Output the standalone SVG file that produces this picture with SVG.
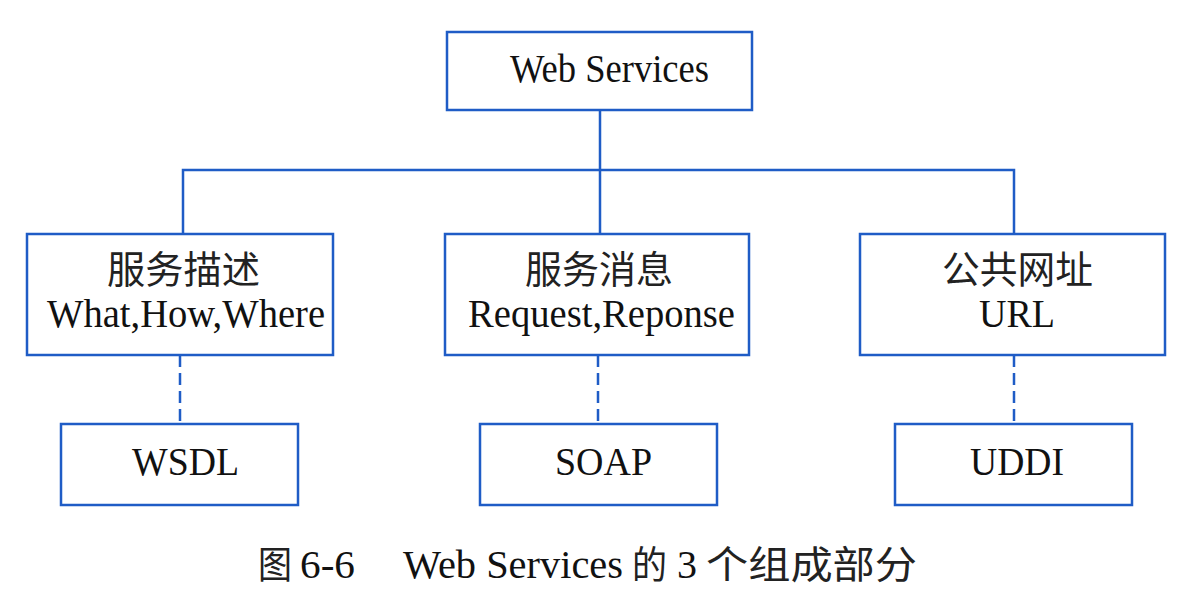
<svg xmlns="http://www.w3.org/2000/svg" width="1192" height="591" viewBox="0 0 1192 591">
<style>
.box{fill:#fff;stroke:#1f5cc6;stroke-width:2.5}
.ln{fill:none;stroke:#1f5cc6;stroke-width:2.5}
.dash{fill:none;stroke:#1f5cc6;stroke-width:2.5;stroke-dasharray:12 6}
.en{font-family:"Liberation Serif","Times New Roman",serif;font-size:41px;fill:#111}
.zh{font-family:"Noto Sans CJK SC","Noto Sans",sans-serif;font-size:38px;fill:#222}
.cap{font-family:"Liberation Serif","Times New Roman",serif;font-size:40px;fill:#111}
.capzh{font-family:"Noto Sans CJK SC",sans-serif;font-size:38px;fill:#222}
</style>
<rect width="1192" height="591" fill="#fff"/>
<g id="connectors">
<path class="ln" d="M600 110V234M183 234V170H1014V234"/>
<path class="dash" d="M180 355V424M598 355V424M1014 355V424"/>
</g>
<g id="web-services">
<rect class="box" x="447" y="32" width="305" height="78"/>
<text class="en" x="510" y="82" textLength="199" lengthAdjust="spacingAndGlyphs">Web Services</text>
</g>
<g id="service-description">
<rect class="box" x="27" y="234" width="306" height="121"/>
<text class="zh" x="107" y="283" textLength="153" lengthAdjust="spacingAndGlyphs">服务描述</text>
<text class="en" x="47" y="327" textLength="278" lengthAdjust="spacingAndGlyphs">What,How,Where</text>
</g>
<g id="service-message">
<rect class="box" x="445" y="234" width="304" height="121"/>
<text class="zh" x="525" y="283" textLength="148" lengthAdjust="spacingAndGlyphs">服务消息</text>
<text class="en" x="468" y="327" textLength="267" lengthAdjust="spacingAndGlyphs">Request,Reponse</text>
</g>
<g id="public-url">
<rect class="box" x="860" y="234" width="305" height="121"/>
<text class="zh" x="942" y="283" textLength="151" lengthAdjust="spacingAndGlyphs">公共网址</text>
<text class="en" x="979" y="327" textLength="76" lengthAdjust="spacingAndGlyphs">URL</text>
</g>
<g id="wsdl">
<rect class="box" x="61" y="424" width="237" height="81"/>
<text class="en" x="132" y="475" textLength="107" lengthAdjust="spacingAndGlyphs">WSDL</text>
</g>
<g id="soap">
<rect class="box" x="480" y="424" width="237" height="81"/>
<text class="en" x="555" y="475" textLength="97" lengthAdjust="spacingAndGlyphs">SOAP</text>
</g>
<g id="uddi">
<rect class="box" x="895" y="424" width="237" height="81"/>
<text class="en" x="970" y="475" textLength="94" lengthAdjust="spacingAndGlyphs">UDDI</text>
</g>
<g id="caption">
<text class="capzh" x="258" y="578" textLength="34" lengthAdjust="spacingAndGlyphs">图</text>
<text class="cap" x="300" y="578" textLength="55" lengthAdjust="spacingAndGlyphs">6-6</text>
<text class="cap" x="403" y="578" textLength="220" lengthAdjust="spacingAndGlyphs">Web Services</text>
<text class="capzh" x="632" y="578" textLength="35" lengthAdjust="spacingAndGlyphs">的</text>
<text class="cap" x="677" y="578">3</text>
<text class="capzh" x="706" y="578" textLength="211" lengthAdjust="spacingAndGlyphs">个组成部分</text>
</g>
</svg>
